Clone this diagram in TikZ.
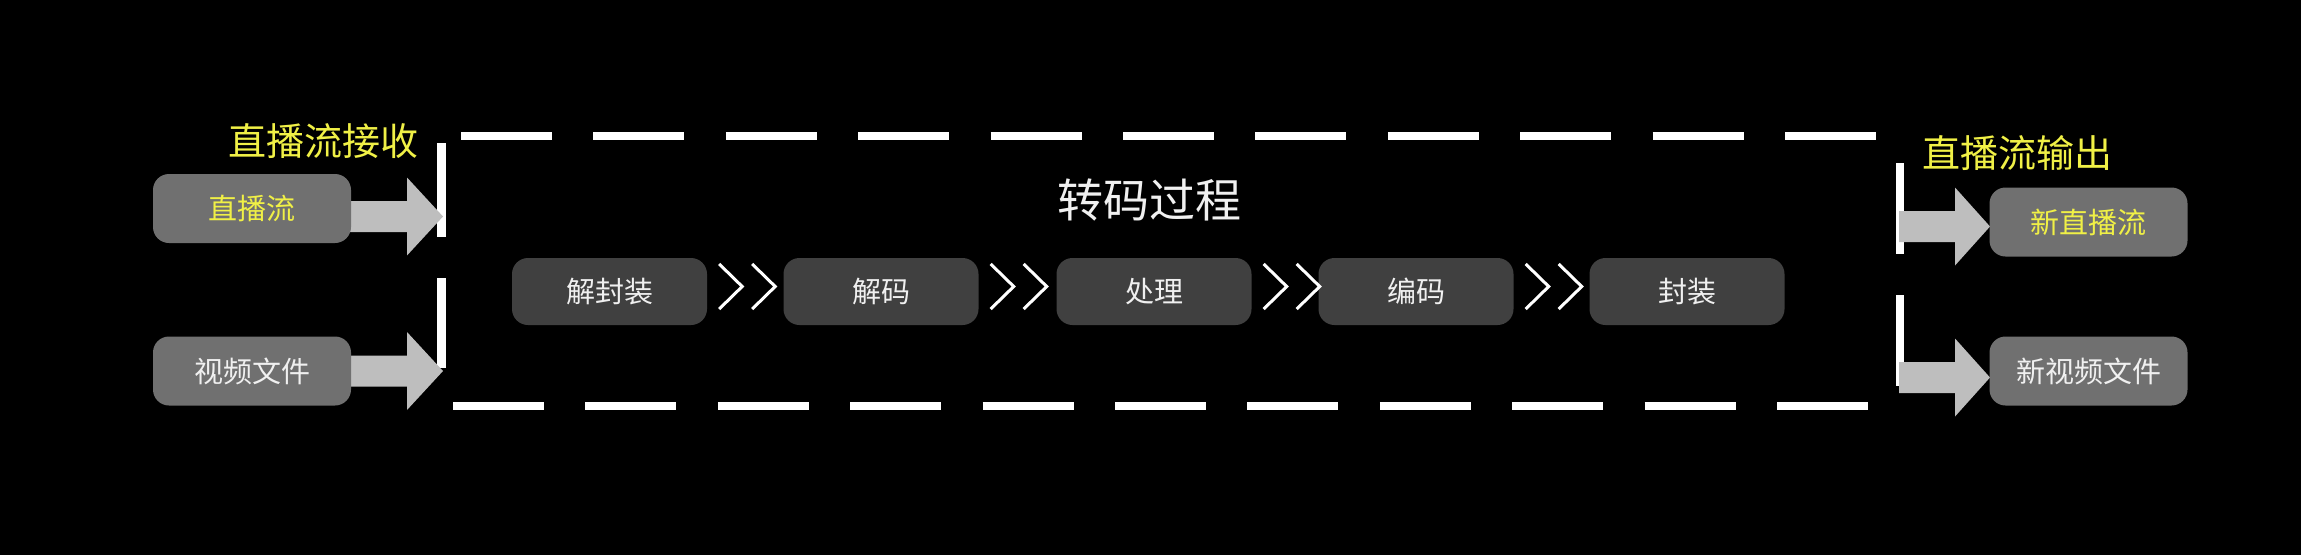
\documentclass[tikz,border=0pt]{standalone}
\usepackage{fontspec}
\setmainfont{Noto Sans CJK SC}
\usetikzlibrary{calc}
\definecolor{srcgray}{RGB}{112,112,112}
\definecolor{stepgray}{RGB}{64,64,64}
\definecolor{arrgray}{RGB}{190,190,190}
\definecolor{ylw}{RGB}{240,240,70}
\definecolor{txtw}{RGB}{240,240,240}
\newcommand{\blockarrow}[4]{% x0, xhead, xtip, ycenter
  \fill[arrgray] (#1,#4-15.5) -- (#2,#4-15.5) -- (#2,#4-39) -- (#3,#4)
    -- (#2,#4+39) -- (#2,#4+15.5) -- (#1,#4+15.5) -- cycle;}
\begin{document}
\begin{tikzpicture}[x=1pt,y=-1pt,
  srcbox/.style={fill=srcgray, rounded corners=16pt, minimum width=198pt,
    minimum height=69pt, inner sep=0pt, font=\fontsize{29}{34}\selectfont},
  stepbox/.style={fill=stepgray, rounded corners=16pt, minimum width=195pt,
    minimum height=67pt, inner sep=0pt, text=txtw, font=\fontsize{29}{34}\selectfont},
  ttl/.style={inner sep=0pt, font=\fontsize{38}{44}\selectfont},
  chev/.style={draw=white, line width=3pt},
  dashline/.style={draw=white, line width=8.5pt, dash pattern=on 91pt off 41.4pt},
  vline/.style={draw=white, line width=8.5pt}]
\fill[black] (0,0) rectangle (2301,555);
\useasboundingbox (0,0) rectangle (2301,555);

% dashed frame
\draw[dashline] (461,136) -- (1877,136);
\draw[dashline] (453,406) -- (1869,406);
\draw[vline] (441.5,143) -- (441.5,237);
\draw[vline] (441.5,278) -- (441.5,368);
\draw[vline] (1900,163) -- (1900,254);
\draw[vline] (1900,295) -- (1900,386);

% block arrows
\blockarrow{340}{407}{443}{216.5}
\blockarrow{340}{407}{443}{371}
\blockarrow{1899}{1955}{1990}{226.5}
\blockarrow{1899}{1955}{1990}{377.5}

% titles
\node[ttl, text=ylw] (tin) at (323.5,141) {直播流接收};
\node[ttl, text=ylw] (tout) at (2017,153) {直播流输出};
\node[inner sep=0pt, text=txtw, font=\fontsize{46}{52}\selectfont] (tmid) at (1149,200) {转码过程};

% source and output boxes
\node[srcbox, text=ylw] (ls) at (252,208.5) {直播流};
\node[srcbox, text=txtw] (lv) at (252,371) {视频文件};
\node[srcbox, text=ylw] (rs) at (2088.5,222) {新直播流};
\node[srcbox, text=txtw] (rv) at (2088.5,371) {新视频文件};

% steps
\node[stepbox] (s1) at (609.5,291.5) {解封装};
\node[stepbox] (s2) at (881,291.5) {解码};
\node[stepbox] (s3) at (1154,291.5) {处理};
\node[stepbox] (s4) at (1416,291.5) {编码};
\node[stepbox] (s5) at (1687,291.5) {封装};

\foreach \a in {s1,s2,s3,s4}{
  \draw[chev] ($(\a.east)+(12,-27.5)$) -- ($(\a.east)+(35,-5)$) -- ($(\a.east)+(12,17.5)$);
  \draw[chev] ($(\a.east)+(45,-27.5)$) -- ($(\a.east)+(68,-5)$) -- ($(\a.east)+(45,17.5)$);
}
\end{tikzpicture}
\end{document}
